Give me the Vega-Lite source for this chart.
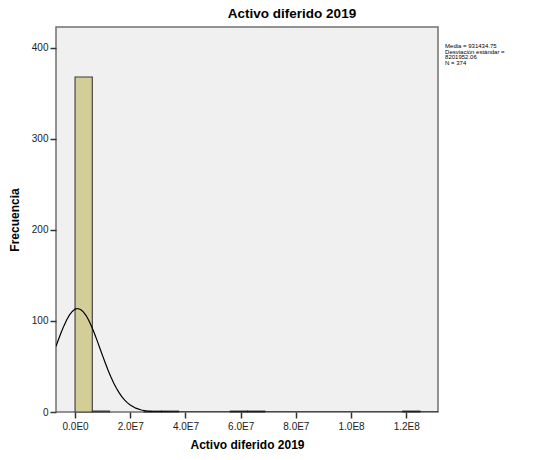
{
  "$schema": "https://vega.github.io/schema/vega-lite/v6.json",
  "autosize": {"type": "none"},
  "padding": {"left": 56, "top": 27, "right": 96, "bottom": 48},
  "width": 382,
  "height": 385,
  "background": "white",
  "config": {
    "view": {"fill": "#F0F0F0", "stroke": "#707070", "strokeWidth": 1.5},
    "font": "Liberation Sans"
  },
  "title": {
    "text": "Activo diferido 2019",
    "fontSize": 13.5,
    "fontWeight": "bold",
    "font": "Liberation Sans",
    "color": "#000000",
    "anchor": "middle",
    "dx": 45,
    "offset": 7
  },
  "datasets": {
    "bins": [
      {"start": 0, "end": 6250000, "count": 368},
      {"start": 6250000, "end": 12500000, "count": 1},
      {"start": 25000000, "end": 31250000, "count": 1},
      {"start": 31250000, "end": 37500000, "count": 1},
      {"start": 56250000, "end": 62500000, "count": 1},
      {"start": 62500000, "end": 68750000, "count": 1},
      {"start": 118750000, "end": 125000000, "count": 1}
    ],
    "curve": [
      {"x": -6900000, "y": 72.1},
      {"x": -6000000, "y": 79.6},
      {"x": -5000000, "y": 87.6},
      {"x": -4000000, "y": 94.9},
      {"x": -3000000, "y": 101.4},
      {"x": -2000000, "y": 106.7},
      {"x": -1000000, "y": 110.5},
      {"x": 0, "y": 113.0},
      {"x": 931435, "y": 113.7},
      {"x": 2000000, "y": 112.7},
      {"x": 3000000, "y": 110.1},
      {"x": 4000000, "y": 106.0},
      {"x": 5000000, "y": 100.5},
      {"x": 6000000, "y": 93.9},
      {"x": 7000000, "y": 86.5},
      {"x": 8000000, "y": 78.4},
      {"x": 9000000, "y": 70.0},
      {"x": 10000000, "y": 61.7},
      {"x": 11000000, "y": 53.5},
      {"x": 12000000, "y": 45.7},
      {"x": 13000000, "y": 38.5},
      {"x": 14000000, "y": 31.9},
      {"x": 15000000, "y": 26.1},
      {"x": 16000000, "y": 21.0},
      {"x": 17000000, "y": 16.6},
      {"x": 18000000, "y": 13.0},
      {"x": 19000000, "y": 10.0},
      {"x": 20000000, "y": 7.6},
      {"x": 22000000, "y": 4.2},
      {"x": 24000000, "y": 2.2},
      {"x": 26000000, "y": 1.1},
      {"x": 28000000, "y": 0.5},
      {"x": 30000000, "y": 0.2},
      {"x": 33000000, "y": 0.06},
      {"x": 36000000, "y": 0.01},
      {"x": 40000000, "y": 0},
      {"x": 131500000, "y": 0}
    ],
    "note": [
      {"x": 134060000, "y": 405, "label": "Media = 931434.75\nDesviación estándar =\n8201952.06\nN = 374"}
    ]
  },
  "layer": [
    {
      "data": {"name": "bins"},
      "mark": {"type": "bar", "fill": "#D3CE97", "stroke": "#3a3a3a", "strokeWidth": 1.1},
      "encoding": {
        "x": {
          "field": "start",
          "type": "quantitative",
          "scale": {"domain": [-6900000, 131500000], "nice": false, "zero": false},
          "axis": {
            "values": [0, 20000000, 40000000, 60000000, 80000000, 100000000, 120000000],
            "labelExpr": "replace(replace(format(datum.value, '.1e'), 'e+', 'E'), 'e', 'E')",
            "title": "Activo diferido 2019",
            "titleFontSize": 12,
            "titleFontWeight": "bold",
            "titleColor": "#000000",
            "titlePadding": 8,
            "labelFontSize": 10,
            "labelColor": "#222222",
            "labelPadding": 3,
            "tickSize": 6,
            "tickWidth": 1.5,
            "tickColor": "#333333",
            "domain": false,
            "grid": false
          }
        },
        "x2": {"field": "end"},
        "y": {
          "field": "count",
          "type": "quantitative",
          "scale": {"domain": [0, 423], "nice": false},
          "axis": {
            "values": [0, 100, 200, 300, 400],
            "title": "Frecuencia",
            "titleFontSize": 12,
            "titleFontWeight": "bold",
            "titleColor": "#000000",
            "titlePadding": 10,
            "labelFontSize": 10,
            "labelColor": "#222222",
            "labelPadding": 2,
            "tickSize": 6,
            "tickWidth": 1.5,
            "tickColor": "#333333",
            "domain": false,
            "grid": false
          }
        },
        "y2": {"datum": 0}
      }
    },
    {
      "data": {"name": "curve"},
      "mark": {"type": "line", "color": "#000000", "strokeWidth": 1.2, "clip": true},
      "encoding": {
        "x": {"field": "x", "type": "quantitative"},
        "y": {"field": "y", "type": "quantitative"}
      }
    },
    {
      "data": {"name": "note"},
      "mark": {"type": "text", "align": "left", "baseline": "top", "fontSize": 6, "lineHeight": 5.4, "lineBreak": "\n", "color": "#000000", "font": "Liberation Sans"},
      "encoding": {
        "x": {"field": "x", "type": "quantitative"},
        "y": {"field": "y", "type": "quantitative"},
        "text": {"field": "label"}
      }
    }
  ]
}
